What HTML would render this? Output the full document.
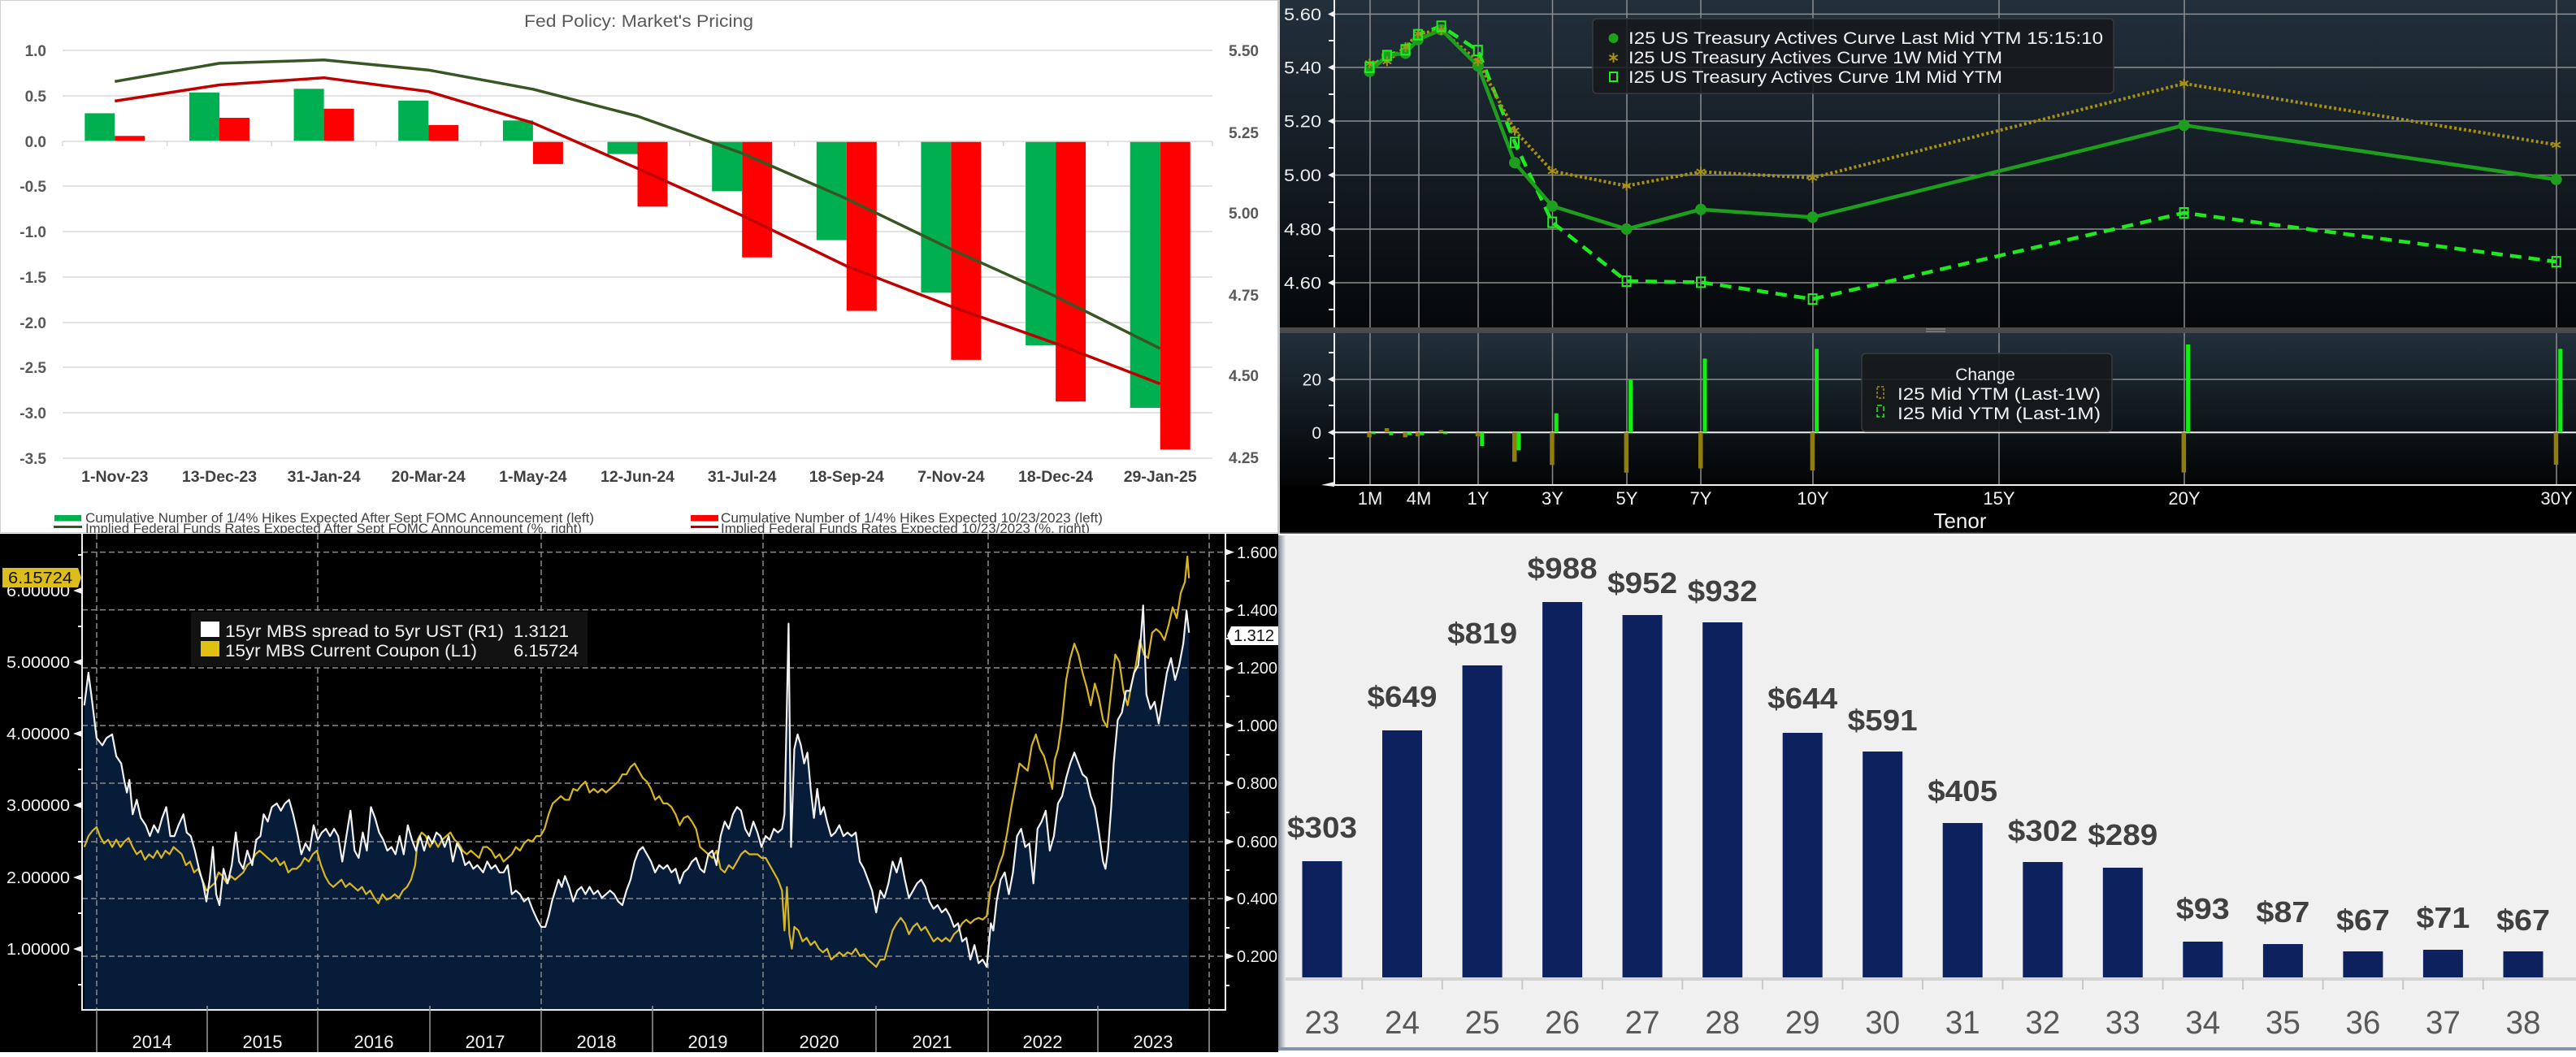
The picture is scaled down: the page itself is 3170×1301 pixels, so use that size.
<!DOCTYPE html>
<html><head><meta charset="utf-8"><style>
html,body{margin:0;padding:0;background:#fff;}
svg{display:block;}
text{font-family:"Liberation Sans",Arial,sans-serif;}
</style></head><body>
<svg width="3170" height="1301" viewBox="0 0 3170 1301" xmlns="http://www.w3.org/2000/svg">
<defs>
<linearGradient id="gU" x1="0" y1="0" x2="0" y2="1"><stop offset="0" stop-color="#22303c"/><stop offset="1" stop-color="#06080a"/></linearGradient>
<linearGradient id="gL" x1="0" y1="0" x2="0" y2="1"><stop offset="0" stop-color="#21303b"/><stop offset="1" stop-color="#030405"/></linearGradient>
<linearGradient id="gB" x1="0" y1="0" x2="1" y2="0"><stop offset="0" stop-color="#7f8a9a"/><stop offset="1" stop-color="#ececec"/></linearGradient>
<clipPath id="c1"><rect x="0" y="0" width="1573" height="656"/></clipPath>
<clipPath id="c3"><rect x="0" y="657" width="1573" height="638"/></clipPath>
<g id="ast" stroke="#a89014" stroke-width="2"><line x1="0" y1="-6" x2="0" y2="6"/><line x1="-5.2" y1="-3" x2="5.2" y2="3"/><line x1="-5.2" y1="3" x2="5.2" y2="-3"/></g>
<rect id="sq" x="-5" y="-6" width="10" height="12" fill="none" stroke="#22ee22" stroke-width="2"/>
</defs>

<!-- ================= PANEL 1: Fed Policy ================= -->
<g clip-path="url(#c1)">
<rect x="0" y="0" width="1573" height="656" fill="#ffffff"/>
<rect x="0.5" y="0.5" width="1572" height="655" fill="none" stroke="#d0d0d0" stroke-width="1"/>
<text x="786" y="33" text-anchor="middle" font-size="21" fill="#595959" textLength="282" lengthAdjust="spacingAndGlyphs">Fed Policy: Market's Pricing</text>
<g stroke="#d9d9d9" stroke-width="1.5">
<line x1="77" y1="62" x2="1492" y2="62"/><line x1="77" y1="118" x2="1492" y2="118"/>
<line x1="77" y1="229" x2="1492" y2="229"/><line x1="77" y1="285" x2="1492" y2="285"/>
<line x1="77" y1="341" x2="1492" y2="341"/><line x1="77" y1="397" x2="1492" y2="397"/>
<line x1="77" y1="452" x2="1492" y2="452"/><line x1="77" y1="508" x2="1492" y2="508"/>
<line x1="77" y1="564" x2="1492" y2="564"/>
</g>
<g fill="#00b050">
<rect x="104.3" y="139.4" width="37" height="34.6"/>
<rect x="233" y="113.8" width="37" height="60.2"/>
<rect x="361.6" y="109.3" width="37" height="64.7"/>
<rect x="490.2" y="123.8" width="37" height="50.2"/>
<rect x="618.9" y="148.3" width="37" height="25.7"/>
<rect x="747.5" y="174" width="37" height="15.6"/>
<rect x="876.2" y="174" width="37" height="61.4"/>
<rect x="1004.8" y="174" width="37" height="121.6"/>
<rect x="1133.4" y="174" width="37" height="186.3"/>
<rect x="1262.1" y="174" width="37" height="251"/>
<rect x="1390.7" y="174" width="37" height="328"/>
</g>
<g fill="#ff0000">
<rect x="141.3" y="167.3" width="37" height="6.7"/>
<rect x="270" y="145" width="37" height="29"/>
<rect x="398.6" y="133.8" width="37" height="40.2"/>
<rect x="527.2" y="153.9" width="37" height="20.1"/>
<rect x="655.9" y="174" width="37" height="27.9"/>
<rect x="784.5" y="174" width="37" height="80.3"/>
<rect x="913.2" y="174" width="37" height="142.8"/>
<rect x="1041.8" y="174" width="37" height="208.6"/>
<rect x="1170.4" y="174" width="37" height="268.9"/>
<rect x="1299.1" y="174" width="37" height="320.2"/>
<rect x="1427.7" y="174" width="37" height="379.3"/>
</g>
<line x1="77" y1="174" x2="1492" y2="174" stroke="#d9d9d9" stroke-width="1.5"/>
<g stroke="#d9d9d9" stroke-width="1.5">
<line x1="77" y1="174" x2="77" y2="180"/><line x1="205.6" y1="174" x2="205.6" y2="180"/><line x1="334.3" y1="174" x2="334.3" y2="180"/><line x1="462.9" y1="174" x2="462.9" y2="180"/><line x1="591.6" y1="174" x2="591.6" y2="180"/><line x1="720.2" y1="174" x2="720.2" y2="180"/><line x1="848.8" y1="174" x2="848.8" y2="180"/><line x1="977.5" y1="174" x2="977.5" y2="180"/><line x1="1106.1" y1="174" x2="1106.1" y2="180"/><line x1="1234.8" y1="174" x2="1234.8" y2="180"/><line x1="1363.4" y1="174" x2="1363.4" y2="180"/><line x1="1492" y1="174" x2="1492" y2="180"/>
</g>
<polyline fill="none" stroke="#375623" stroke-width="3.5" stroke-linejoin="round" points="141.3,100.3 270,77.9 398.6,73.8 527.2,86.2 655.9,109.8 784.5,143 913.2,188.6 1041.8,244.6 1170.4,306.7 1299.1,364.8 1427.7,429"/>
<polyline fill="none" stroke="#c00000" stroke-width="3.5" stroke-linejoin="round" points="141.3,124.4 270,104.5 398.6,95.7 527.2,112.7 655.9,151.3 784.5,207.3 913.2,265.3 1041.8,327.5 1170.4,377.2 1299.1,422.8 1427.7,472.5"/>
<g font-size="19" font-weight="bold" fill="#595959" text-anchor="end">
<text x="57" y="69">1.0</text><text x="57" y="125">0.5</text><text x="57" y="181">0.0</text>
<text x="57" y="236">-0.5</text><text x="57" y="292">-1.0</text><text x="57" y="348">-1.5</text>
<text x="57" y="404">-2.0</text><text x="57" y="459">-2.5</text><text x="57" y="515">-3.0</text>
<text x="57" y="571">-3.5</text>
</g>
<g font-size="19" font-weight="bold" fill="#595959">
<text x="1512" y="69">5.50</text><text x="1512" y="170">5.25</text><text x="1512" y="269">5.00</text>
<text x="1512" y="370">4.75</text><text x="1512" y="469">4.50</text><text x="1512" y="570">4.25</text>
</g>
<g font-size="19.5" font-weight="bold" fill="#404040" text-anchor="middle">
<text x="141.3" y="593">1-Nov-23</text><text x="270" y="593">13-Dec-23</text><text x="398.6" y="593">31-Jan-24</text>
<text x="527.2" y="593">20-Mar-24</text><text x="655.9" y="593">1-May-24</text><text x="784.5" y="593">12-Jun-24</text>
<text x="913.2" y="593">31-Jul-24</text><text x="1041.8" y="593">18-Sep-24</text><text x="1170.4" y="593">7-Nov-24</text>
<text x="1299.1" y="593">18-Dec-24</text><text x="1427.7" y="593">29-Jan-25</text>
</g>
<rect x="67" y="634" width="33" height="7.5" fill="#00b050"/>
<rect x="850" y="634" width="34" height="7.5" fill="#ff0000"/>
<line x1="66" y1="648.5" x2="101" y2="648.5" stroke="#375623" stroke-width="3"/>
<line x1="850" y1="648.5" x2="884" y2="648.5" stroke="#c00000" stroke-width="3"/>
<g font-size="17" fill="#404040">
<text x="105" y="643" textLength="626" lengthAdjust="spacingAndGlyphs">Cumulative Number of 1/4% Hikes Expected After Sept FOMC Announcement (left)</text>
<text x="887" y="643" textLength="470" lengthAdjust="spacingAndGlyphs">Cumulative Number of 1/4% Hikes Expected 10/23/2023 (left)</text>
<text x="105" y="656" textLength="611" lengthAdjust="spacingAndGlyphs">Implied Federal Funds Rates Expected After Sept FOMC Announcement (%, right)</text>
<text x="887" y="656" textLength="454" lengthAdjust="spacingAndGlyphs">Implied Federal Funds Rates Expected 10/23/2023 (%, right)</text>
</g>
</g>
<rect x="1572" y="0" width="3" height="657" fill="#c8c8c8"/>

<!-- ================= PANEL 2: Treasury curve ================= -->
<rect x="1575" y="0" width="1595" height="403" fill="url(#gU)"/>
<rect x="1575" y="403" width="1595" height="7" fill="#4a4a4a"/>
<line x1="2370" y1="405" x2="2394" y2="405" stroke="#a0a0a0" stroke-width="1"/>
<line x1="2370" y1="408" x2="2394" y2="408" stroke="#a0a0a0" stroke-width="1"/>
<rect x="1575" y="410" width="1595" height="187" fill="url(#gL)"/>
<rect x="1575" y="597" width="1595" height="59" fill="#000"/>
<rect x="1575" y="655.5" width="1595" height="1.5" fill="#6a6a6a"/>
<g stroke="#8e8e8e" stroke-width="1.5">
<line x1="1642" y1="17.4" x2="3170" y2="17.4"/><line x1="1642" y1="83" x2="3170" y2="83"/>
<line x1="1642" y1="149" x2="3170" y2="149"/><line x1="1642" y1="215.5" x2="3170" y2="215.5"/>
<line x1="1642" y1="282" x2="3170" y2="282"/><line x1="1642" y1="348" x2="3170" y2="348"/>
<line x1="1642" y1="467" x2="3170" y2="467"/>
</g>
<g stroke="#8e8e8e" stroke-width="1.5">
<line x1="1686" y1="0" x2="1686" y2="403"/><line x1="1746" y1="0" x2="1746" y2="403"/><line x1="1819" y1="0" x2="1819" y2="403"/><line x1="1910.5" y1="0" x2="1910.5" y2="403"/><line x1="2002" y1="0" x2="2002" y2="403"/><line x1="2093" y1="0" x2="2093" y2="403"/><line x1="2231" y1="0" x2="2231" y2="403"/><line x1="2460" y1="0" x2="2460" y2="403"/><line x1="2688" y1="0" x2="2688" y2="403"/><line x1="3146" y1="0" x2="3146" y2="403"/>
<line x1="1686" y1="410" x2="1686" y2="597"/><line x1="1746" y1="410" x2="1746" y2="597"/><line x1="1819" y1="410" x2="1819" y2="597"/><line x1="1910.5" y1="410" x2="1910.5" y2="597"/><line x1="2002" y1="410" x2="2002" y2="597"/><line x1="2093" y1="410" x2="2093" y2="597"/><line x1="2231" y1="410" x2="2231" y2="597"/><line x1="2460" y1="410" x2="2460" y2="597"/><line x1="2688" y1="410" x2="2688" y2="597"/><line x1="3146" y1="410" x2="3146" y2="597"/>
</g>
<g stroke="#f0f0f0" stroke-width="2">
<line x1="1642" y1="0" x2="1642" y2="403"/>
<line x1="1642" y1="410" x2="1642" y2="598"/>
<line x1="1641" y1="597" x2="3170" y2="597"/>
<line x1="1642" y1="532.3" x2="3170" y2="532.3"/>
<line x1="1635" y1="50" x2="1642" y2="50"/><line x1="1635" y1="116" x2="1642" y2="116"/><line x1="1635" y1="182" x2="1642" y2="182"/><line x1="1635" y1="249" x2="1642" y2="249"/><line x1="1635" y1="315" x2="1642" y2="315"/><line x1="1635" y1="381" x2="1642" y2="381"/>
<line x1="1635" y1="434" x2="1642" y2="434"/><line x1="1635" y1="499" x2="1642" y2="499"/><line x1="1635" y1="564" x2="1642" y2="564"/>
</g>
<g fill="#f0f0f0">
<polygon points="1634,17.4 1642,13.4 1642,21.4"/><polygon points="1634,83 1642,79 1642,87"/><polygon points="1634,149 1642,145 1642,153"/><polygon points="1634,215.5 1642,211.5 1642,219.5"/><polygon points="1634,282 1642,278 1642,286"/><polygon points="1634,348 1642,344 1642,352"/>
<polygon points="1634,466.7 1642,462.7 1642,470.7"/><polygon points="1634,532.3 1642,528.3 1642,536.3"/><polygon points="1626,597 1642,593 1642,599"/>
</g>
<g font-size="21" fill="#ececec" text-anchor="end">
<text x="1626" y="25" textLength="46" lengthAdjust="spacingAndGlyphs">5.60</text>
<text x="1626" y="90.5" textLength="46" lengthAdjust="spacingAndGlyphs">5.40</text>
<text x="1626" y="156.5" textLength="46" lengthAdjust="spacingAndGlyphs">5.20</text>
<text x="1626" y="223" textLength="46" lengthAdjust="spacingAndGlyphs">5.00</text>
<text x="1626" y="289.5" textLength="46" lengthAdjust="spacingAndGlyphs">4.80</text>
<text x="1626" y="355.5" textLength="46" lengthAdjust="spacingAndGlyphs">4.60</text>
<text x="1626" y="474.5">20</text>
<text x="1626" y="540">0</text>
</g>
<g fill="#8f7d0c">
<rect x="1682.3" y="532.3" width="5.5" height="6"/>
<rect x="1703.9" y="527" width="5.5" height="5.3"/>
<rect x="1726.5" y="532.3" width="5.5" height="6"/>
<rect x="1741.9" y="532.3" width="5.5" height="4.7"/>
<rect x="1770.6" y="529.3" width="5.5" height="3"/>
<rect x="1815.8" y="532.3" width="5.5" height="4.7"/>
<rect x="1861" y="532.3" width="5.5" height="36"/>
<rect x="1907.2" y="532.3" width="5.5" height="40"/>
<rect x="1998.6" y="532.3" width="5.5" height="49.4"/>
<rect x="2090" y="532.3" width="5.5" height="44.2"/>
<rect x="2227.6" y="532.3" width="5.5" height="46.7"/>
<rect x="2684.6" y="532.3" width="5.5" height="49.2"/>
<rect x="3142.7" y="532.3" width="5.5" height="39.7"/>
</g>
<g fill="#12f012">
<rect x="1687.8" y="532.3" width="5" height="2"/>
<rect x="1709.4" y="532.3" width="5" height="3.4"/>
<rect x="1732" y="532.3" width="5" height="3.4"/>
<rect x="1747.4" y="532.3" width="5" height="3.4"/>
<rect x="1776.1" y="532.3" width="5" height="2"/>
<rect x="1821.3" y="532.3" width="5" height="16.7"/>
<rect x="1866.5" y="532.3" width="5" height="22"/>
<rect x="1912.7" y="508.7" width="5" height="23.6"/>
<rect x="2004.1" y="467.7" width="5" height="64.6"/>
<rect x="2095.5" y="441.4" width="5" height="90.9"/>
<rect x="2233.1" y="429.4" width="5" height="102.9"/>
<rect x="2690.1" y="424" width="5" height="108.3"/>
<rect x="3148.2" y="429.4" width="5" height="102.9"/>
</g>
<polyline fill="none" stroke="#20e820" stroke-width="4.5" stroke-dasharray="14,9" points="1685.3,82.9 1706.9,68.4 1729.5,61.3 1744.9,42.7 1773.6,32.3 1818.8,62.2 1864,175.3 1910.2,273.6 2001.6,346.1 2093,347.4 2230.6,368.1 2687.6,262 3145.7,322.1"/>
<polyline fill="none" stroke="#a89014" stroke-width="4" stroke-dasharray="3,3" points="1685.3,77.9 1706.9,75.4 1729.5,58 1744.9,41.5 1773.6,37.3 1818.8,75.4 1864,160.8 1910.2,210.6 2001.6,228.8 2093,211.4 2230.6,218.9 2687.6,102.8 3145.7,178.2"/>
<polyline fill="none" stroke="#1e9e1e" stroke-width="4.5" points="1685.3,87.9 1706.9,68.4 1729.5,65.5 1744.9,48.9 1773.6,36.5 1818.8,81.2 1864,200.2 1910.2,253.7 2001.6,281.9 2093,257.8 2230.6,267.4 2687.6,154.2 3145.7,220.9"/>
<g fill="#1e9e1e">
<circle cx="1685.3" cy="87.9" r="7"/><circle cx="1706.9" cy="68.4" r="7"/><circle cx="1729.5" cy="65.5" r="7"/><circle cx="1744.9" cy="48.9" r="7"/><circle cx="1773.6" cy="36.5" r="7"/><circle cx="1818.8" cy="81.2" r="7"/><circle cx="1864" cy="200.2" r="7"/><circle cx="1910.2" cy="253.7" r="7"/><circle cx="2001.6" cy="281.9" r="7"/><circle cx="2093" cy="257.8" r="7"/><circle cx="2230.6" cy="267.4" r="7"/><circle cx="2687.6" cy="154.2" r="7"/><circle cx="3145.7" cy="220.9" r="7"/>
</g>
<use href="#ast" x="1685.3" y="77.9"/><use href="#ast" x="1706.9" y="75.4"/><use href="#ast" x="1729.5" y="58"/><use href="#ast" x="1744.9" y="41.5"/><use href="#ast" x="1773.6" y="37.3"/><use href="#ast" x="1818.8" y="75.4"/><use href="#ast" x="1864" y="160.8"/><use href="#ast" x="1910.2" y="210.6"/><use href="#ast" x="2001.6" y="228.8"/><use href="#ast" x="2093" y="211.4"/><use href="#ast" x="2230.6" y="218.9"/><use href="#ast" x="2687.6" y="102.8"/><use href="#ast" x="3145.7" y="178.2"/>
<use href="#sq" x="1685.3" y="82.9"/><use href="#sq" x="1706.9" y="68.4"/><use href="#sq" x="1729.5" y="61.3"/><use href="#sq" x="1744.9" y="42.7"/><use href="#sq" x="1773.6" y="32.3"/><use href="#sq" x="1818.8" y="62.2"/><use href="#sq" x="1864" y="175.3"/><use href="#sq" x="1910.2" y="273.6"/><use href="#sq" x="2001.6" y="346.1"/><use href="#sq" x="2093" y="347.4"/><use href="#sq" x="2230.6" y="368.1"/><use href="#sq" x="2687.6" y="262"/><use href="#sq" x="3145.7" y="322.1"/>
<rect x="1960" y="23" width="641" height="92" rx="5" fill="#16191c" fill-opacity="0.85" stroke="#3a3a3a" stroke-width="1.5"/>
<circle cx="1985.5" cy="47" r="6" fill="#1ea01e"/>
<use href="#ast" x="1985.5" y="71"/>
<rect x="1981" y="89" width="9" height="11" fill="none" stroke="#22ee22" stroke-width="2"/>
<g font-size="21" fill="#f2f2f2">
<text x="2004" y="54" textLength="584" lengthAdjust="spacingAndGlyphs">I25 US Treasury Actives Curve Last Mid YTM 15:15:10</text>
<text x="2004" y="78" textLength="460" lengthAdjust="spacingAndGlyphs">I25 US Treasury Actives Curve 1W Mid YTM</text>
<text x="2004" y="102" textLength="460" lengthAdjust="spacingAndGlyphs">I25 US Treasury Actives Curve 1M Mid YTM</text>
</g>
<rect x="2291" y="435" width="308" height="96" rx="5" fill="#16191c" fill-opacity="0.9" stroke="#3a3a3a" stroke-width="1.5"/>
<rect x="2310" y="476" width="8" height="14" fill="none" stroke="#a89014" stroke-width="1.5" stroke-dasharray="3,2"/>
<rect x="2310" y="499" width="8" height="14" fill="none" stroke="#22ee22" stroke-width="1.5" stroke-dasharray="6,3"/>
<g font-size="21" fill="#f2f2f2">
<text x="2443" y="468" text-anchor="middle">Change</text>
<text x="2335" y="492" textLength="250" lengthAdjust="spacingAndGlyphs">I25 Mid YTM (Last-1W)</text>
<text x="2335" y="516" textLength="250" lengthAdjust="spacingAndGlyphs">I25 Mid YTM (Last-1M)</text>
</g>
<g font-size="22" fill="#f2f2f2" text-anchor="middle">
<text x="1686" y="621">1M</text><text x="1746" y="621">4M</text><text x="1819" y="621">1Y</text><text x="1910.5" y="621">3Y</text><text x="2002" y="621">5Y</text><text x="2093" y="621">7Y</text><text x="2231" y="621">10Y</text><text x="2460" y="621">15Y</text><text x="2688" y="621">20Y</text><text x="3146" y="621">30Y</text>
<text x="2412" y="650" font-size="26">Tenor</text>
</g>

<!-- ================= PANEL 3: MBS ================= -->
<g clip-path="url(#c3)">
<rect x="0" y="657" width="1573" height="638" fill="#000"/>
<g transform="translate(0,600) scale(1.0077,0.447)">
<path fill="#061c38" d="M103,1438 L103,600 108,510 112,580 118,690 125,710 130,690 137,680 142,740 148,760 152,810 155,840 158,805 162,900 167,860 172,910 178,930 183,960 188,930 193,950 198,910 203,880 208,960 213,960 218,930 224,900 228,950 233,960 238,1000 243,1050 248,1090 252,1140 256,1080 260,990 264,1120 268,1150 273,1050 278,1090 283,1040 288,950 292,1030 297,1050 302,1000 308,1040 313,970 318,960 322,900 327,920 332,880 338,870 343,890 348,870 353,860 358,900 363,950 368,1010 373,980 378,1000 383,930 388,970 393,950 398,940 403,960 408,940 413,960 418,1030 423,960 428,890 433,1000 438,1020 443,950 448,1000 453,880 458,910 463,950 468,970 473,1000 478,990 483,1010 488,960 493,1010 498,930 503,970 508,1000 513,960 518,1000 523,960 528,980 533,950 538,960 543,990 548,960 553,1030 558,980 563,1000 568,1040 573,1030 578,1050 583,1040 590,1060 595,1030 600,1050 605,1040 610,1060 615,1060 620,1040 625,1120 630,1110 635,1120 640,1140 645,1130 650,1160 656,1190 661,1210 666,1210 670,1180 674,1140 678,1110 682,1080 686,1100 690,1070 695,1100 700,1140 705,1110 710,1100 715,1120 720,1100 725,1120 730,1110 735,1130 740,1120 745,1110 750,1120 755,1140 760,1150 765,1110 770,1080 775,1030 780,1000 785,990 790,1010 795,1030 800,1060 805,1040 810,1050 815,1040 820,1060 825,1050 830,1090 835,1060 840,1050 845,1030 850,1020 855,1050 860,1060 865,1010 870,1000 875,1040 880,960 885,920 890,940 895,900 900,880 905,890 910,940 915,960 920,920 925,950 930,990 935,960 940,970 945,940 950,950 955,940 958,900 960,700 963,375 966,990 970,720 974,680 978,710 982,760 986,730 990,830 994,910 998,830 1002,900 1006,880 1010,920 1015,960 1020,950 1025,930 1030,960 1035,950 1040,960 1045,950 1050,1030 1055,1050 1060,1080 1065,1110 1070,1170 1075,1110 1080,1130 1085,1090 1090,1030 1095,1060 1100,1020 1105,1080 1110,1130 1115,1110 1120,1090 1125,1080 1130,1100 1135,1140 1140,1160 1145,1150 1150,1170 1155,1160 1160,1180 1165,1210 1170,1200 1175,1250 1180,1240 1185,1300 1190,1260 1195,1310 1200,1300 1205,1320 1210,1200 1213,1220 1217,1140 1222,1080 1227,1060 1232,1120 1237,1060 1242,960 1247,940 1252,990 1257,980 1262,1090 1267,940 1272,920 1277,890 1282,1000 1287,960 1292,870 1297,850 1302,800 1307,760 1312,730 1317,760 1322,790 1327,800 1332,850 1337,880 1342,950 1347,1030 1350,1050 1353,1000 1357,880 1360,760 1365,640 1370,620 1375,560 1380,560 1385,510 1390,490 1393,420 1396,325 1400,570 1405,610 1410,590 1415,650 1420,580 1425,510 1430,470 1435,530 1440,490 1445,430 1449,340 1452,400 L1452,1438 Z"/>
</g>
<g stroke="#8a8a8a" stroke-width="1.5" stroke-dasharray="7,4">
<line x1="101" y1="679.6" x2="1508" y2="679.6"/><line x1="101" y1="750.6" x2="1508" y2="750.6"/><line x1="101" y1="822" x2="1508" y2="822"/><line x1="101" y1="893" x2="1508" y2="893"/><line x1="101" y1="964" x2="1508" y2="964"/><line x1="101" y1="1036" x2="1508" y2="1036"/><line x1="101" y1="1106" x2="1508" y2="1106"/><line x1="101" y1="1177" x2="1508" y2="1177"/>
<line x1="119" y1="657" x2="119" y2="1243"/><line x1="391" y1="657" x2="391" y2="1243"/><line x1="666" y1="657" x2="666" y2="1243"/><line x1="939" y1="657" x2="939" y2="1243"/><line x1="1216" y1="657" x2="1216" y2="1243"/><line x1="1488" y1="657" x2="1488" y2="1243"/>
</g>
<g transform="translate(0,600) scale(1.0077,0.447)" fill="none" stroke-linejoin="round">
<polyline stroke="#d8b622" stroke-width="2.2" vector-effect="non-scaling-stroke" points="103,990 108,960 113,945 118,935 122,960 127,980 132,970 137,990 142,970 147,990 152,975 157,965 162,990 167,1010 172,1000 177,1025 182,1010 187,1020 192,1000 197,1020 202,1000 207,1010 212,990 217,1000 222,1010 227,1040 232,1030 237,1060 242,1050 247,1080 252,1110 257,1100 262,1090 267,1060 272,1070 277,1090 282,1070 287,1080 292,1070 297,1060 302,1040 307,1030 312,1010 317,1000 322,1010 327,1020 332,1030 337,1020 342,1040 347,1030 352,1060 357,1050 362,1050 367,1040 372,1020 377,1030 382,1010 387,1000 392,1040 397,1070 402,1090 407,1100 412,1090 417,1080 422,1100 427,1090 432,1100 437,1110 442,1100 447,1120 452,1110 457,1130 462,1145 467,1120 472,1135 477,1130 482,1120 487,1130 492,1110 497,1100 502,1080 507,1040 510,970 515,950 520,960 525,990 530,970 535,990 540,970 545,960 550,950 555,970 560,980 565,1000 570,1010 575,1000 580,1010 585,1020 590,990 595,990 600,1000 605,1020 610,1010 615,1030 620,1020 625,1010 630,990 635,1000 640,980 645,970 650,975 655,960 660,960 665,940 670,900 675,870 680,860 685,850 690,860 695,860 700,830 705,835 710,820 715,810 720,840 725,830 730,840 735,830 740,840 745,830 750,820 755,810 760,790 765,790 770,770 775,760 780,780 785,800 790,810 795,830 800,860 805,850 810,870 815,870 820,880 825,900 830,930 835,910 840,905 845,920 850,940 855,990 860,1000 865,1010 870,1020 875,1000 880,1050 885,1060 890,1040 895,1050 900,1030 905,1010 910,1000 915,1010 920,1010 925,1010 930,1020 935,1020 940,1040 945,1060 950,1080 955,1110 958,1220 961,1100 964,1230 967,1270 970,1210 975,1220 980,1250 985,1240 990,1260 995,1250 1000,1270 1005,1280 1010,1270 1015,1300 1020,1290 1025,1280 1030,1290 1035,1280 1040,1285 1045,1270 1050,1290 1055,1285 1060,1300 1065,1310 1070,1320 1075,1300 1080,1300 1085,1260 1090,1220 1095,1200 1100,1185 1105,1200 1110,1230 1115,1210 1120,1200 1125,1220 1130,1210 1135,1230 1140,1250 1145,1240 1150,1250 1155,1240 1160,1250 1165,1230 1170,1220 1175,1200 1180,1190 1185,1200 1190,1190 1195,1185 1200,1190 1205,1180 1210,1100 1215,1080 1220,1040 1225,1010 1230,950 1235,880 1240,820 1245,760 1250,770 1255,780 1260,710 1265,680 1270,720 1275,740 1280,780 1285,830 1288,750 1292,720 1297,640 1302,530 1307,470 1312,430 1317,460 1322,510 1327,550 1332,600 1337,540 1342,580 1347,640 1352,660 1357,560 1362,460 1367,480 1372,560 1377,600 1382,540 1387,490 1392,420 1397,460 1402,470 1407,400 1412,390 1417,400 1422,420 1427,380 1432,330 1437,360 1442,290 1447,260 1450,190 1452,250"/>
<polyline stroke="#f2f2f2" stroke-width="2.2" vector-effect="non-scaling-stroke" points="103,600 108,510 112,580 118,690 125,710 130,690 137,680 142,740 148,760 152,810 155,840 158,805 162,900 167,860 172,910 178,930 183,960 188,930 193,950 198,910 203,880 208,960 213,960 218,930 224,900 228,950 233,960 238,1000 243,1050 248,1090 252,1140 256,1080 260,990 264,1120 268,1150 273,1050 278,1090 283,1040 288,950 292,1030 297,1050 302,1000 308,1040 313,970 318,960 322,900 327,920 332,880 338,870 343,890 348,870 353,860 358,900 363,950 368,1010 373,980 378,1000 383,930 388,970 393,950 398,940 403,960 408,940 413,960 418,1030 423,960 428,890 433,1000 438,1020 443,950 448,1000 453,880 458,910 463,950 468,970 473,1000 478,990 483,1010 488,960 493,1010 498,930 503,970 508,1000 513,960 518,1000 523,960 528,980 533,950 538,960 543,990 548,960 553,1030 558,980 563,1000 568,1040 573,1030 578,1050 583,1040 590,1060 595,1030 600,1050 605,1040 610,1060 615,1060 620,1040 625,1120 630,1110 635,1120 640,1140 645,1130 650,1160 656,1190 661,1210 666,1210 670,1180 674,1140 678,1110 682,1080 686,1100 690,1070 695,1100 700,1140 705,1110 710,1100 715,1120 720,1100 725,1120 730,1110 735,1130 740,1120 745,1110 750,1120 755,1140 760,1150 765,1110 770,1080 775,1030 780,1000 785,990 790,1010 795,1030 800,1060 805,1040 810,1050 815,1040 820,1060 825,1050 830,1090 835,1060 840,1050 845,1030 850,1020 855,1050 860,1060 865,1010 870,1000 875,1040 880,960 885,920 890,940 895,900 900,880 905,890 910,940 915,960 920,920 925,950 930,990 935,960 940,970 945,940 950,950 955,940 958,900 960,700 963,375 966,990 970,720 974,680 978,710 982,760 986,730 990,830 994,910 998,830 1002,900 1006,880 1010,920 1015,960 1020,950 1025,930 1030,960 1035,950 1040,960 1045,950 1050,1030 1055,1050 1060,1080 1065,1110 1070,1170 1075,1110 1080,1130 1085,1090 1090,1030 1095,1060 1100,1020 1105,1080 1110,1130 1115,1110 1120,1090 1125,1080 1130,1100 1135,1140 1140,1160 1145,1150 1150,1170 1155,1160 1160,1180 1165,1210 1170,1200 1175,1250 1180,1240 1185,1300 1190,1260 1195,1310 1200,1300 1205,1320 1210,1200 1213,1220 1217,1140 1222,1080 1227,1060 1232,1120 1237,1060 1242,960 1247,940 1252,990 1257,980 1262,1090 1267,940 1272,920 1277,890 1282,1000 1287,960 1292,870 1297,850 1302,800 1307,760 1312,730 1317,760 1322,790 1327,800 1332,850 1337,880 1342,950 1347,1030 1350,1050 1353,1000 1357,880 1360,760 1365,640 1370,620 1375,560 1380,560 1385,510 1390,490 1393,420 1396,325 1400,570 1405,610 1410,590 1415,650 1420,580 1425,510 1430,470 1435,530 1440,490 1445,430 1449,340 1452,400"/>
</g>
<g stroke="#f0f0f0" stroke-width="2">
<line x1="101" y1="657" x2="101" y2="1243"/>
<line x1="100" y1="1243" x2="1509" y2="1243"/>
<line x1="1508" y1="657" x2="1508" y2="1243"/>
<line x1="96" y1="683" x2="101" y2="683"/><line x1="96" y1="771" x2="101" y2="771"/><line x1="96" y1="859" x2="101" y2="859"/><line x1="96" y1="947" x2="101" y2="947"/><line x1="96" y1="1036" x2="101" y2="1036"/><line x1="96" y1="1124" x2="101" y2="1124"/><line x1="96" y1="1212" x2="101" y2="1212"/>
<line x1="1508" y1="715" x2="1513" y2="715"/><line x1="1508" y1="786" x2="1513" y2="786"/><line x1="1508" y1="857" x2="1513" y2="857"/><line x1="1508" y1="929" x2="1513" y2="929"/><line x1="1508" y1="1000" x2="1513" y2="1000"/><line x1="1508" y1="1071" x2="1513" y2="1071"/><line x1="1508" y1="1142" x2="1513" y2="1142"/><line x1="1508" y1="1213" x2="1513" y2="1213"/>
</g>
<g fill="#f0f0f0">
<polygon points="90,727 101,723 101,731"/><polygon points="90,815 101,811 101,819"/><polygon points="90,903 101,899 101,907"/><polygon points="90,991 101,987 101,995"/><polygon points="90,1080 101,1076 101,1084"/><polygon points="90,1168 101,1164 101,1172"/>
<polygon points="1519,679.6 1508,675.6 1508,683.6"/><polygon points="1519,750.6 1508,746.6 1508,754.6"/><polygon points="1519,822 1508,818 1508,826"/><polygon points="1519,893 1508,889 1508,897"/><polygon points="1519,964 1508,960 1508,968"/><polygon points="1519,1036 1508,1032 1508,1040"/><polygon points="1519,1106 1508,1102 1508,1110"/><polygon points="1519,1177 1508,1173 1508,1181"/>
</g>
<g stroke="#9a9a9a" stroke-width="1.5">
<line x1="119" y1="1243" x2="119" y2="1295"/><line x1="255" y1="1238" x2="255" y2="1295"/><line x1="391" y1="1243" x2="391" y2="1295"/><line x1="529" y1="1238" x2="529" y2="1295"/><line x1="666" y1="1243" x2="666" y2="1295"/><line x1="803" y1="1238" x2="803" y2="1295"/><line x1="939" y1="1243" x2="939" y2="1295"/><line x1="1078" y1="1238" x2="1078" y2="1295"/><line x1="1216" y1="1243" x2="1216" y2="1295"/><line x1="1351" y1="1238" x2="1351" y2="1295"/><line x1="1488" y1="1243" x2="1488" y2="1295"/>
</g>
<g font-size="20" fill="#f2f2f2" text-anchor="end">
<text x="86" y="734" textLength="78" lengthAdjust="spacingAndGlyphs">6.00000</text>
<text x="86" y="822" textLength="78" lengthAdjust="spacingAndGlyphs">5.00000</text>
<text x="86" y="910" textLength="78" lengthAdjust="spacingAndGlyphs">4.00000</text>
<text x="86" y="998" textLength="78" lengthAdjust="spacingAndGlyphs">3.00000</text>
<text x="86" y="1087" textLength="78" lengthAdjust="spacingAndGlyphs">2.00000</text>
<text x="86" y="1175" textLength="78" lengthAdjust="spacingAndGlyphs">1.00000</text>
</g>
<g font-size="20" fill="#f2f2f2">
<text x="1522" y="687">1.600</text><text x="1522" y="758">1.400</text><text x="1522" y="829">1.200</text><text x="1522" y="900">1.000</text><text x="1522" y="971">0.800</text><text x="1522" y="1043">0.600</text><text x="1522" y="1113">0.400</text><text x="1522" y="1184">0.200</text>
</g>
<g font-size="22" fill="#f2f2f2" text-anchor="middle">
<text x="187" y="1290">2014</text><text x="323" y="1290">2015</text><text x="460" y="1290">2016</text><text x="597" y="1290">2017</text><text x="734" y="1290">2018</text><text x="871" y="1290">2019</text><text x="1008" y="1290">2020</text><text x="1147" y="1290">2021</text><text x="1283" y="1290">2022</text><text x="1419" y="1290">2023</text>
</g>
<polygon points="3,699 96,699 100,711 96,723 3,723" fill="#dcbd1c"/>
<text x="10" y="718" font-size="20" fill="#111" textLength="79" lengthAdjust="spacingAndGlyphs">6.15724</text>
<polygon points="1510,782.5 1515,771 1573,771 1573,794 1515,794" fill="#ffffff"/>
<text x="1518" y="789" font-size="20" fill="#111">1.312</text>
<rect x="235" y="753" width="488" height="67" fill="#121212"/>
<rect x="247" y="765" width="23" height="19" fill="#ffffff"/>
<rect x="247" y="789" width="23" height="19" fill="#e0c010"/>
<g font-size="21" fill="#f2f2f2">
<text x="277" y="784" textLength="343" lengthAdjust="spacingAndGlyphs">15yr MBS spread to 5yr UST (R1)</text>
<text x="632" y="784" textLength="68" lengthAdjust="spacingAndGlyphs">1.3121</text>
<text x="277" y="808" textLength="310" lengthAdjust="spacingAndGlyphs">15yr MBS Current Coupon (L1)</text>
<text x="632" y="808" textLength="80" lengthAdjust="spacingAndGlyphs">6.15724</text>
</g>
</g>

<!-- ================= PANEL 4: Bars ================= -->
<rect x="1573" y="659" width="1597" height="634" fill="#f0f0f0"/>
<rect x="1573" y="659" width="9" height="634" fill="url(#gB)"/>
<rect x="1573" y="1289" width="1597" height="4" fill="#8596ab"/>
<rect x="1582" y="1203" width="1588" height="4" fill="#d4d4d4"/>
<g stroke="#c8c8c8" stroke-width="2">
<line x1="1676.3" y1="1205" x2="1676.3" y2="1218"/><line x1="1774.8" y1="1205" x2="1774.8" y2="1218"/><line x1="1873.3" y1="1205" x2="1873.3" y2="1218"/><line x1="1971.9" y1="1205" x2="1971.9" y2="1218"/><line x1="2070.4" y1="1205" x2="2070.4" y2="1218"/><line x1="2168.9" y1="1205" x2="2168.9" y2="1218"/><line x1="2267.4" y1="1205" x2="2267.4" y2="1218"/><line x1="2366" y1="1205" x2="2366" y2="1218"/><line x1="2464.5" y1="1205" x2="2464.5" y2="1218"/><line x1="2563" y1="1205" x2="2563" y2="1218"/><line x1="2661.6" y1="1205" x2="2661.6" y2="1218"/><line x1="2760.1" y1="1205" x2="2760.1" y2="1218"/><line x1="2858.6" y1="1205" x2="2858.6" y2="1218"/><line x1="2957.2" y1="1205" x2="2957.2" y2="1218"/><line x1="3055.7" y1="1205" x2="3055.7" y2="1218"/>
</g>
<g fill="#0c215e">
<rect x="1602.5" y="1060" width="49" height="143"/>
<rect x="1701" y="899" width="49" height="304"/>
<rect x="1799.6" y="819" width="49" height="384"/>
<rect x="1898.1" y="741" width="49" height="462"/>
<rect x="1996.6" y="757" width="49" height="446"/>
<rect x="2095.2" y="766" width="49" height="437"/>
<rect x="2193.7" y="902" width="49" height="301"/>
<rect x="2292.2" y="925" width="49" height="278"/>
<rect x="2390.7" y="1013" width="49" height="190"/>
<rect x="2489.3" y="1061" width="49" height="142"/>
<rect x="2587.8" y="1068" width="49" height="135"/>
<rect x="2686.3" y="1159" width="49" height="44"/>
<rect x="2784.9" y="1162" width="49" height="41"/>
<rect x="2883.4" y="1171" width="49" height="32"/>
<rect x="2981.9" y="1169" width="49" height="34"/>
<rect x="3080.5" y="1171" width="49" height="32"/>
</g>
<g font-size="36" font-weight="bold" fill="#404040" text-anchor="middle">
<text x="1627" y="1031" textLength="86" lengthAdjust="spacingAndGlyphs">$303</text>
<text x="1725.5" y="870" textLength="86" lengthAdjust="spacingAndGlyphs">$649</text>
<text x="1824.1" y="792" textLength="86" lengthAdjust="spacingAndGlyphs">$819</text>
<text x="1922.6" y="712" textLength="86" lengthAdjust="spacingAndGlyphs">$988</text>
<text x="2021.1" y="730" textLength="86" lengthAdjust="spacingAndGlyphs">$952</text>
<text x="2119.7" y="740" textLength="86" lengthAdjust="spacingAndGlyphs">$932</text>
<text x="2218.2" y="872" textLength="86" lengthAdjust="spacingAndGlyphs">$644</text>
<text x="2316.7" y="899" textLength="86" lengthAdjust="spacingAndGlyphs">$591</text>
<text x="2415.2" y="986" textLength="86" lengthAdjust="spacingAndGlyphs">$405</text>
<text x="2513.8" y="1035" textLength="86" lengthAdjust="spacingAndGlyphs">$302</text>
<text x="2612.3" y="1040" textLength="86" lengthAdjust="spacingAndGlyphs">$289</text>
<text x="2710.8" y="1131" textLength="66" lengthAdjust="spacingAndGlyphs">$93</text>
<text x="2809.4" y="1135" textLength="66" lengthAdjust="spacingAndGlyphs">$87</text>
<text x="2907.9" y="1145" textLength="66" lengthAdjust="spacingAndGlyphs">$67</text>
<text x="3006.4" y="1142" textLength="66" lengthAdjust="spacingAndGlyphs">$71</text>
<text x="3105" y="1145" textLength="66" lengthAdjust="spacingAndGlyphs">$67</text>
</g>
<g font-size="40" fill="#595959" text-anchor="middle">
<text x="1627" y="1272" textLength="43" lengthAdjust="spacingAndGlyphs">23</text>
<text x="1725.5" y="1272" textLength="43" lengthAdjust="spacingAndGlyphs">24</text>
<text x="1824.1" y="1272" textLength="43" lengthAdjust="spacingAndGlyphs">25</text>
<text x="1922.6" y="1272" textLength="43" lengthAdjust="spacingAndGlyphs">26</text>
<text x="2021.1" y="1272" textLength="43" lengthAdjust="spacingAndGlyphs">27</text>
<text x="2119.7" y="1272" textLength="43" lengthAdjust="spacingAndGlyphs">28</text>
<text x="2218.2" y="1272" textLength="43" lengthAdjust="spacingAndGlyphs">29</text>
<text x="2316.7" y="1272" textLength="43" lengthAdjust="spacingAndGlyphs">30</text>
<text x="2415.2" y="1272" textLength="43" lengthAdjust="spacingAndGlyphs">31</text>
<text x="2513.8" y="1272" textLength="43" lengthAdjust="spacingAndGlyphs">32</text>
<text x="2612.3" y="1272" textLength="43" lengthAdjust="spacingAndGlyphs">33</text>
<text x="2710.8" y="1272" textLength="43" lengthAdjust="spacingAndGlyphs">34</text>
<text x="2809.4" y="1272" textLength="43" lengthAdjust="spacingAndGlyphs">35</text>
<text x="2907.9" y="1272" textLength="43" lengthAdjust="spacingAndGlyphs">36</text>
<text x="3006.4" y="1272" textLength="43" lengthAdjust="spacingAndGlyphs">37</text>
<text x="3105" y="1272" textLength="43" lengthAdjust="spacingAndGlyphs">38</text>
</g>
</svg>
</body></html>
